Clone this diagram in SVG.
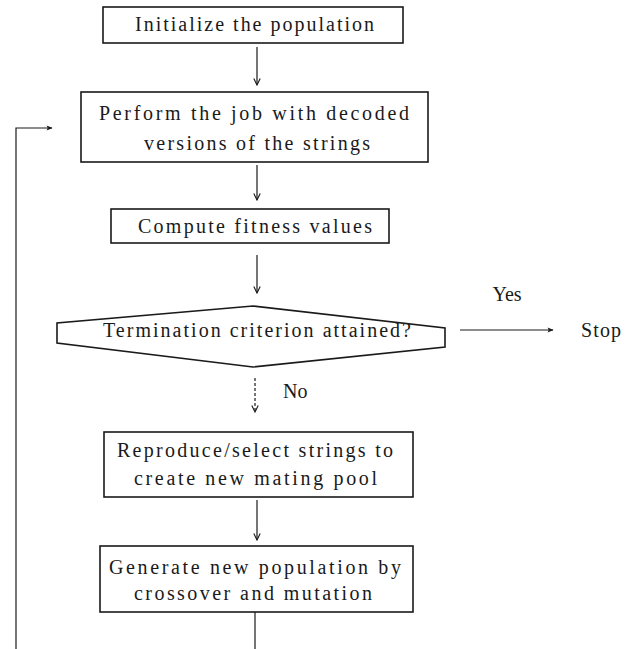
<svg xmlns="http://www.w3.org/2000/svg" width="633" height="649" viewBox="0 0 633 649">
<defs>
<style>
.box{fill:#fff;stroke:#1a1a1a;stroke-width:1.6}
.ln{fill:none;stroke:#1a1a1a;stroke-width:1.2}
.t{font-family:"Liberation Serif","Times New Roman",serif;font-size:20px;fill:#1a1a1a}
</style>
<marker id="ah" viewBox="0 0 10 10" refX="9" refY="5" markerWidth="8" markerHeight="8" markerUnits="userSpaceOnUse" orient="auto">
<path d="M1,1 L9,5 L1,9" fill="none" stroke="#1a1a1a" stroke-width="1.4"/>
</marker>
<marker id="ahf" viewBox="0 0 10 10" refX="9" refY="5" markerWidth="8" markerHeight="6" markerUnits="userSpaceOnUse" orient="auto">
<path d="M0,1 L10,5 L0,9 L2,5 z" fill="#1a1a1a"/>
</marker>
</defs>
<rect width="633" height="649" fill="#fff"/>
<g id="connectors">
<line class="ln" x1="257" y1="47" x2="257" y2="85" marker-end="url(#ah)"/>
<line class="ln" x1="257" y1="165" x2="257" y2="200" marker-end="url(#ah)"/>
<line class="ln" x1="257" y1="255" x2="257" y2="293" marker-end="url(#ah)"/>
<line class="ln" x1="255" y1="378" x2="255" y2="412" stroke-dasharray="3,2" marker-end="url(#ah)"/>
<line class="ln" x1="257" y1="500" x2="257" y2="540" marker-end="url(#ah)"/>
<line class="ln" x1="255" y1="612" x2="255" y2="649"/>
<polyline class="ln" points="16,649 16,128 52,128" marker-end="url(#ahf)"/>
<line class="ln" x1="460" y1="330" x2="553" y2="330" marker-end="url(#ahf)"/>
<text class="t" x="507" y="301" text-anchor="middle">Yes</text>
<text class="t" x="283" y="398">No</text>
</g>
<g id="n1">
<rect class="box" x="103" y="7" width="300" height="36"/>
<text class="t" x="135" y="31" textLength="239" lengthAdjust="spacing">Initialize the population</text>
</g>
<g id="n2">
<rect class="box" x="81" y="92" width="347" height="70"/>
<text class="t" x="99" y="120" textLength="310" lengthAdjust="spacing">Perform the job with decoded</text>
<text class="t" x="144" y="150" textLength="226" lengthAdjust="spacing">versions of the strings</text>
</g>
<g id="n3">
<rect class="box" x="111" y="209" width="278" height="34"/>
<text class="t" x="138" y="233" textLength="234" lengthAdjust="spacing">Compute fitness values</text>
</g>
<g id="n4">
<polygon class="box" points="253,306 445,328 445,347 253,367 57,343 57,323"/>
<text class="t" x="103" y="337" textLength="308" lengthAdjust="spacing">Termination criterion attained?</text>
</g>
<g id="n5">
<text class="t" x="581" y="337" textLength="40" lengthAdjust="spacing">Stop</text>
</g>
<g id="n6">
<rect class="box" x="104" y="432" width="309" height="65"/>
<text class="t" x="117" y="457" textLength="276" lengthAdjust="spacing">Reproduce/select strings to</text>
<text class="t" x="134" y="485" textLength="243" lengthAdjust="spacing">create new mating pool</text>
</g>
<g id="n7">
<rect class="box" x="100" y="546" width="313" height="66"/>
<text class="t" x="109" y="574" textLength="292" lengthAdjust="spacing">Generate new population by</text>
<text class="t" x="134" y="600" textLength="238" lengthAdjust="spacing">crossover and mutation</text>
</g>
</svg>
